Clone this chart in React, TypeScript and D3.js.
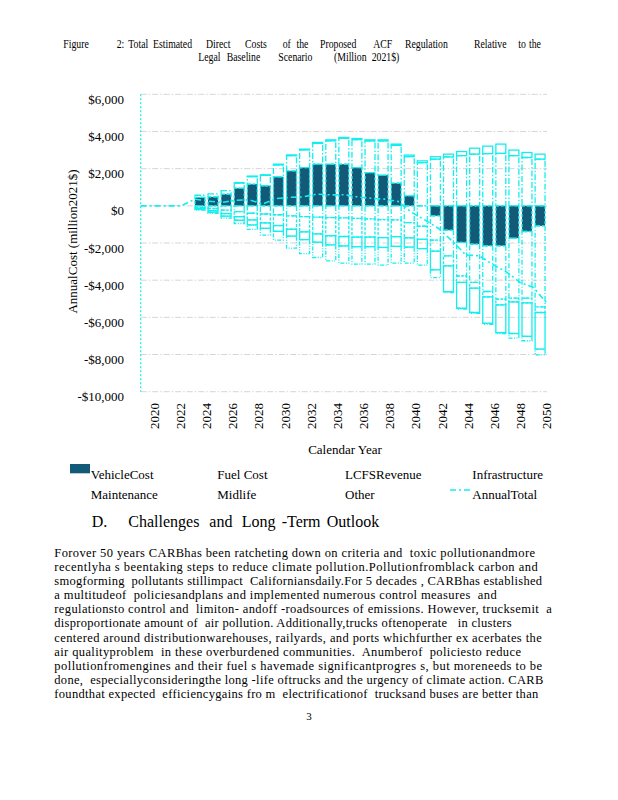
import React from 'react';
import * as d3 from 'd3';

// ---------- DATA (million 2021$) ----------
const years = [2020, 2021, 2022, 2023, 2024, 2025, 2026, 2027, 2028, 2029, 2030, 2031, 2032, 2033, 2034, 2035, 2036, 2037, 2038, 2039, 2040, 2041, 2042, 2043, 2044, 2045, 2046, 2047, 2048, 2049, 2050];
const vehicleCost = [0, 0, 0, 0, 450, 480, 630, 950, 1170, 1080, 1560, 1880, 2060, 2240, 2240, 2240, 2060, 1790, 1650, 1220, 540, 0, -540, -1310, -1970, -2060, -2150, -2150, -1740, -1380, -1080];
const fuelCost = [0, 0, 0, 0, -80, -145, -230, -310, -400, -440, -480, -540, -580, -610, -630, -650, -680, -700, -740, -760, -900, -1100, -1300, -1380, -1800, -2060, -2460, -2870, -3230, -3590, -4360];
const lcfsRevenue = [0, 0, 0, 0, -65, -115, -185, -275, -360, -480, -580, -720, -820, -900, -980, -1000, -1000, -980, -970, -900, -820, -700, -600, -540, -350, -310, -290, -310, -200, -250, -300];
const infrastructure = [0, 0, 0, 0, 120, 160, 190, 270, 400, 560, 640, 820, 950, 1120, 1260, 1390, 1500, 1700, 1840, 2030, 2110, 2320, 2510, 2630, 2700, 2780, 2810, 2820, 2700, 2600, 2510];
const maintenance = [0, 0, 0, 0, -50, -85, -140, -190, -270, -290, -310, -370, -420, -450, -490, -510, -520, -520, -530, -520, -500, -500, -1000, -1390, -1390, -1310, -1420, -1490, -1700, -1800, -1970];
const midlife = [0, 0, 0, 0, -35, -65, -105, -175, -240, -370, -480, -650, -750, -820, -860, -920, -940, -940, -950, -900, -860, -890, -420, -50, -50, -50, -50, -50, -250, -240, -310];
const other = [0, 0, 0, 0, 20, 20, 20, 30, 30, 30, 40, 40, 40, 50, 50, 50, 60, 60, 60, 70, 80, 100, 130, 150, 220, 320, 400, 500, 300, 270, 270];
const annualTotal = [0, 0, 0, 0, 360, 250, 180, 300, 330, 90, 390, 460, 480, 630, 590, 600, 480, 410, 360, 240, -350, -770, -1220, -1890, -2640, -2690, -3160, -3550, -4120, -4390, -5240];
const xTickYears = [2020, 2022, 2024, 2026, 2028, 2030, 2032, 2034, 2036, 2038, 2040, 2042, 2044, 2046, 2048, 2050];

const seriesKeys = ['Vehicle Cost', 'Fuel Cost', 'LCFS Revenue', 'Infrastructure', 'Maintenance', 'Midlife', 'Other'];
const seriesValues = [vehicleCost, fuelCost, lcfsRevenue, infrastructure, maintenance, midlife, other];

const legendRow1 = ['VehicleCost', 'Fuel Cost', 'LCFSRevenue', 'Infrastructure'];
const legendRow2 = ['Maintenance', 'Midlife', 'Other', 'AnnualTotal'];

const titleLine1 = ['Figure', '2:', 'Total', 'Estimated', 'Direct', 'Costs', 'of', 'the', 'Proposed', 'ACF', 'Regulation', 'Relative', 'to', 'the'];
const titleLine2 = ['Legal', 'Baseline', 'Scenario', '(Million', '2021$)'];
const headingWords = ['D.', 'Challenges', 'and', 'Long', '-Term', 'Outlook'];
const bodyLines = [
  'Forover 50 years CARBhas been ratcheting down on criteria and  toxic pollutionandmore',
  'recentlyha s beentaking steps to reduce climate pollution.Pollutionfromblack carbon and',
  'smogforming  pollutants stillimpact  Californiansdaily.For 5 decades , CARBhas established',
  'a multitudeof  policiesandplans and implemented numerous control measures  and',
  'regulationsto control and  limiton- andoff -roadsources of emissions. However, trucksemit  a',
  'disproportionate amount of  air pollution. Additionally,trucks oftenoperate   in clusters',
  'centered around distributionwarehouses, railyards, and ports whichfurther ex acerbates the',
  'air qualityproblem  in these overburdened communities.  Anumberof  policiesto reduce',
  'pollutionfromengines and their fuel s havemade significantprogres s, but moreneeds to be',
  'done,  especiallyconsideringthe long -life oftrucks and the urgency of climate action. CARB',
  'foundthat expected  efficiencygains fro m  electrificationof  trucksand buses are better than',
];

// ---------- LAYOUT ----------
const W = 618;
const H = 800;
const X0 = 140.7;
const X1 = 547;
const YTOP = 94.3;
const YBOT = 391.7;
const CYAN = '#14eeee';
const DARK = '#125a78';
const SERIF = '"Liberation Serif", "Times New Roman", serif';
const TITLE_SX = 0.85;

const seriesStyle: Record<string, { fill: string; dash: string }> = {
  'Vehicle Cost': { fill: DARK, dash: '3,2' },
  'Fuel Cost': { fill: 'none', dash: '5,2,1,2' },
  'LCFS Revenue': { fill: 'none', dash: '3,1.5' },
  'Infrastructure': { fill: 'none', dash: '6,2,1.5,2' },
  'Maintenance': { fill: 'none', dash: '' },
  'Midlife': { fill: 'none', dash: '4,1.5,1,1.5,1,1.5' },
  'Other': { fill: 'none', dash: '' },
};

const title1X = [63.3, 116.7, 128.3, 153, 206, 245, 282.7, 296.5, 320, 373.3, 405, 474, 518.3, 529];
const title2X = [198.3, 226.7, 278.3, 334, 371.7];
const headingX = [91.7, 128.3, 209.3, 241.7, 281.7, 326.7];
const bodyEnds = [535, 537.7, 542, 496.7, 551.7, 511.7, 541.7, 521, 542, 543.3, 538.3];
const legendX = [90.7, 217.3, 345, 472.3];

export default function App() {
  const x = d3.scaleBand<number>().domain(years).range([X0, X1]).paddingInner(0.24).paddingOuter(0.15);
  const xp = d3.scalePoint<number>().domain(years).range([X0, X1]);
  const y = d3.scaleLinear().domain([-10000, 6000]).range([YBOT, YTOP]);

  const table = years.map((yr, i) => {
    const row: Record<string, number> = { year: yr };
    seriesKeys.forEach((k, j) => { row[k] = seriesValues[j][i]; });
    return row;
  });
  const stacked = d3.stack<Record<string, number>>().keys(seriesKeys).offset(d3.stackOffsetDiverging)(table);

  const ticks = y.ticks(8);
  const fmt = d3.format(',');
  const money = (v: number) => (v < 0 ? `-$${fmt(-v)}` : `$${fmt(v)}`);

  const line = d3.line<number>()
    .x((_, i) => xp(years[i]) as number)
    .y((d) => y(d));

  return (
    <svg width={W} height={H} style={{ position: 'absolute', left: 0, top: 0, background: '#fff' }} fontFamily={SERIF}>
      <rect x={0} y={0} width={W} height={H} fill="#fff" />
      {/* Title (condensed) */}
      <g transform={`scale(${TITLE_SX},1)`}>
        {titleLine1.map((w, i) => (
          <text key={'t1' + i} x={title1X[i] / TITLE_SX} y={48} fontSize={11.5}>{w}</text>
        ))}
        {titleLine2.map((w, i) => (
          <text key={'t2' + i} x={title2X[i] / TITLE_SX} y={61} fontSize={11.5}>{w}</text>
        ))}
      </g>

      {/* gridlines */}
      {ticks.map((t) => (
        <line key={'g' + t} x1={X0} x2={X1} y1={y(t)} y2={y(t)} stroke="#d6d6d6" strokeWidth={1} strokeDasharray="6,2,1.5,2" />
      ))}

      {/* bars */}
      {stacked.map((s) => (
        <g key={s.key}>
          {s.map((d, i) => {
            const top = y(Math.max(d[0], d[1]));
            const bot = y(Math.min(d[0], d[1]));
            const h = bot - top;
            if (h < 0.4) return null;
            const st = seriesStyle[s.key];
            return (
              <rect key={i} x={x(years[i])} y={top} width={x.bandwidth()} height={h}
                fill={st.fill} stroke={CYAN} strokeWidth={1.3} strokeDasharray={st.dash || undefined} />
            );
          })}
        </g>
      ))}

      {/* annual total line */}
      <path d={line(annualTotal) || ''} fill="none" stroke={CYAN} strokeWidth={1.6} strokeDasharray="6,3,2,3" />

      {/* left axis */}
      <line x1={X0} x2={X0} y1={YTOP} y2={YBOT} stroke={CYAN} strokeWidth={1.2} strokeDasharray="2,2" />

      {/* y tick labels */}
      {ticks.map((t) => (
        <text key={'yl' + t} x={124} y={y(t) + 5} fontSize={13} textAnchor="end" dominantBaseline="central">{money(t)}</text>
      ))}
      <text transform={`translate(77,241.5) rotate(-90)`} fontSize={13} textAnchor="middle">AnnualCost (million2021$)</text>

      {/* x tick labels */}
      {xTickYears.map((yr) => {
        const cx = (x(yr) as number) + x.bandwidth() / 2 + 6.7;
        return (
          <text key={'xl' + yr} transform={`translate(${cx},403) rotate(-90)`} fontSize={13} textAnchor="end" dominantBaseline="central">{yr}</text>
        );
      })}
      <text x={345} y={454} fontSize={13} textAnchor="middle">Calendar Year</text>

      {/* legend */}
      <rect x={70} y={464} width={20} height={9.3} fill={DARK} />
      <line x1={450} x2={470} y1={490} y2={490} stroke={CYAN} strokeWidth={1.6} strokeDasharray="6,3,2,3" />
      {legendRow1.map((t, i) => (
        <text key={'l1' + i} x={legendX[i]} y={478.5} fontSize={13}>{t}</text>
      ))}
      {legendRow2.map((t, i) => (
        <text key={'l2' + i} x={legendX[i]} y={499} fontSize={13}>{t}</text>
      ))}

      {/* heading */}
      {headingWords.map((w, i) => (
        <text key={'h' + i} x={headingX[i]} y={527} fontSize={16}>{w}</text>
      ))}

      {/* body text */}
      {bodyLines.map((l, i) => (
        <text key={'b' + i} x={54.3} y={556.7 + i * 14.15} fontSize={12.5} textLength={bodyEnds[i] - 54.3} lengthAdjust="spacing" style={{ whiteSpace: 'pre' }}>{l}</text>
      ))}

      <text x={309} y={720} fontSize={11} textAnchor="middle">3</text>
    </svg>
  );
}
